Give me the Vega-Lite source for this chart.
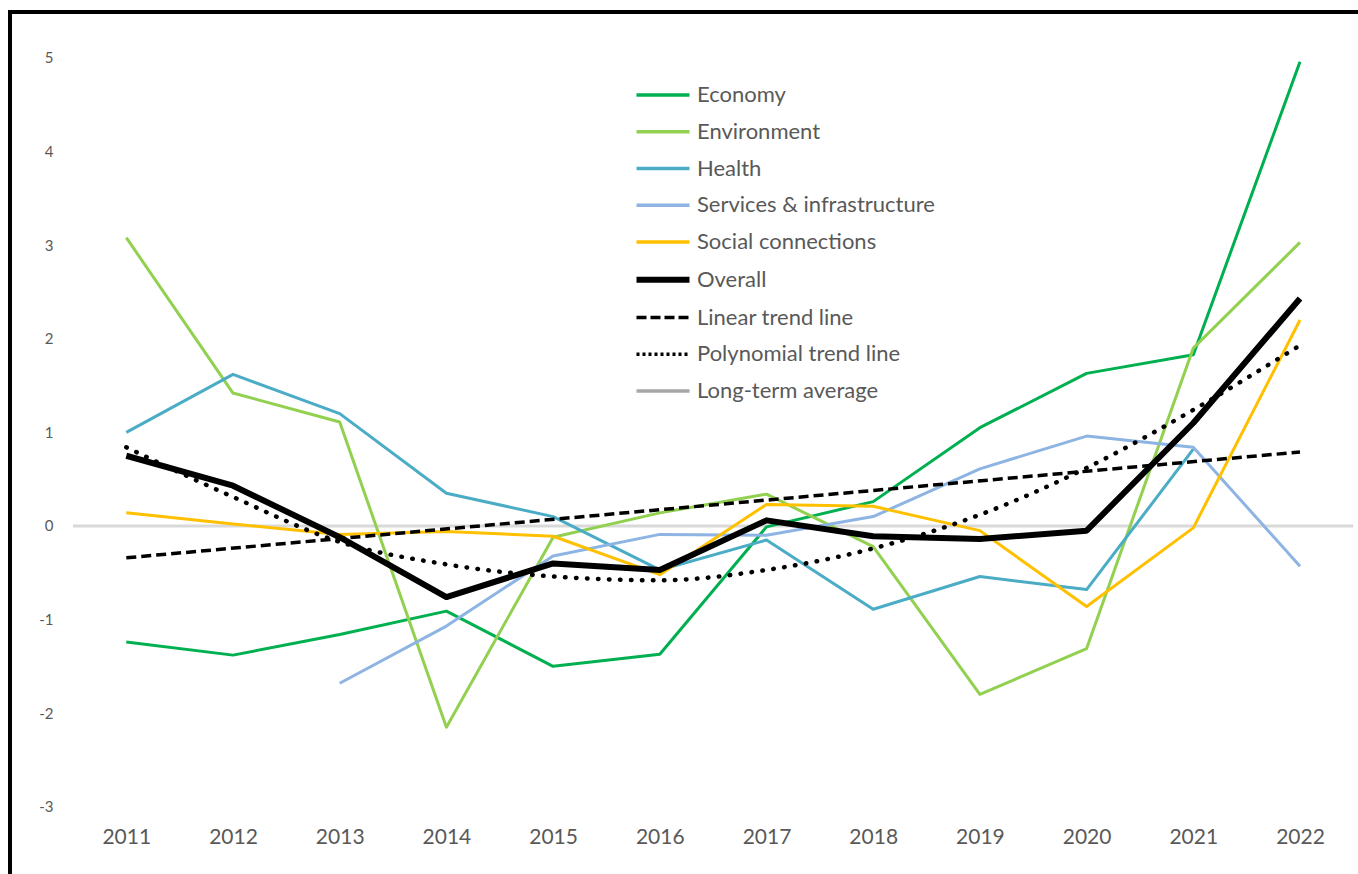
{
  "$schema": "https://vega.github.io/schema/vega-lite/v6.json",
  "autosize": {"type": "none"},
  "padding": {"left": 10, "top": 12, "right": -20, "bottom": -20},
  "width": 1368,
  "height": 882,
  "background": "white",
  "config": {
    "view": {"stroke": "black", "strokeWidth": 4},
    "font": "Lato"
  },
  "datasets": {
    "series": [
      {"series": "Economy", "year": 2011, "value": -1.24},
      {"series": "Economy", "year": 2012, "value": -1.38},
      {"series": "Economy", "year": 2013, "value": -1.16},
      {"series": "Economy", "year": 2014, "value": -0.91},
      {"series": "Economy", "year": 2015, "value": -1.5},
      {"series": "Economy", "year": 2016, "value": -1.37},
      {"series": "Economy", "year": 2017, "value": -0.01},
      {"series": "Economy", "year": 2018, "value": 0.26},
      {"series": "Economy", "year": 2019, "value": 1.05},
      {"series": "Economy", "year": 2020, "value": 1.63},
      {"series": "Economy", "year": 2021, "value": 1.83},
      {"series": "Economy", "year": 2022, "value": 4.96},
      {"series": "Environment", "year": 2011, "value": 3.08},
      {"series": "Environment", "year": 2012, "value": 1.42},
      {"series": "Environment", "year": 2013, "value": 1.11},
      {"series": "Environment", "year": 2014, "value": -2.15},
      {"series": "Environment", "year": 2015, "value": -0.12},
      {"series": "Environment", "year": 2016, "value": 0.14},
      {"series": "Environment", "year": 2017, "value": 0.34},
      {"series": "Environment", "year": 2018, "value": -0.22},
      {"series": "Environment", "year": 2019, "value": -1.8},
      {"series": "Environment", "year": 2020, "value": -1.31},
      {"series": "Environment", "year": 2021, "value": 1.9},
      {"series": "Environment", "year": 2022, "value": 3.03},
      {"series": "Health", "year": 2011, "value": 1.0},
      {"series": "Health", "year": 2012, "value": 1.62},
      {"series": "Health", "year": 2013, "value": 1.2},
      {"series": "Health", "year": 2014, "value": 0.35},
      {"series": "Health", "year": 2015, "value": 0.1},
      {"series": "Health", "year": 2016, "value": -0.47},
      {"series": "Health", "year": 2017, "value": -0.15},
      {"series": "Health", "year": 2018, "value": -0.89},
      {"series": "Health", "year": 2019, "value": -0.54},
      {"series": "Health", "year": 2020, "value": -0.68},
      {"series": "Health", "year": 2021, "value": 0.82},
      {"series": "Services & infrastructure", "year": 2013, "value": -1.68},
      {"series": "Services & infrastructure", "year": 2014, "value": -1.07},
      {"series": "Services & infrastructure", "year": 2015, "value": -0.32},
      {"series": "Services & infrastructure", "year": 2016, "value": -0.09},
      {"series": "Services & infrastructure", "year": 2017, "value": -0.1},
      {"series": "Services & infrastructure", "year": 2018, "value": 0.1},
      {"series": "Services & infrastructure", "year": 2019, "value": 0.61},
      {"series": "Services & infrastructure", "year": 2020, "value": 0.96},
      {"series": "Services & infrastructure", "year": 2021, "value": 0.84},
      {"series": "Services & infrastructure", "year": 2022, "value": -0.43},
      {"series": "Social connections", "year": 2011, "value": 0.14},
      {"series": "Social connections", "year": 2012, "value": 0.02},
      {"series": "Social connections", "year": 2013, "value": -0.09},
      {"series": "Social connections", "year": 2014, "value": -0.06},
      {"series": "Social connections", "year": 2015, "value": -0.11},
      {"series": "Social connections", "year": 2016, "value": -0.52},
      {"series": "Social connections", "year": 2017, "value": 0.23},
      {"series": "Social connections", "year": 2018, "value": 0.21},
      {"series": "Social connections", "year": 2019, "value": -0.05},
      {"series": "Social connections", "year": 2020, "value": -0.86},
      {"series": "Social connections", "year": 2021, "value": -0.02},
      {"series": "Social connections", "year": 2022, "value": 2.2},
      {"series": "Overall", "year": 2011, "value": 0.75},
      {"series": "Overall", "year": 2012, "value": 0.43},
      {"series": "Overall", "year": 2013, "value": -0.12},
      {"series": "Overall", "year": 2014, "value": -0.76},
      {"series": "Overall", "year": 2015, "value": -0.4},
      {"series": "Overall", "year": 2016, "value": -0.47},
      {"series": "Overall", "year": 2017, "value": 0.06},
      {"series": "Overall", "year": 2018, "value": -0.11},
      {"series": "Overall", "year": 2019, "value": -0.14},
      {"series": "Overall", "year": 2020, "value": -0.05},
      {"series": "Overall", "year": 2021, "value": 1.1},
      {"series": "Overall", "year": 2022, "value": 2.43},
      {"series": "Linear trend line", "year": 2011, "value": -0.34},
      {"series": "Linear trend line", "year": 2022, "value": 0.79},
      {"series": "Polynomial trend line", "year": 2011, "value": 0.84},
      {"series": "Polynomial trend line", "year": 2012, "value": 0.31},
      {"series": "Polynomial trend line", "year": 2013, "value": -0.17},
      {"series": "Polynomial trend line", "year": 2014, "value": -0.41},
      {"series": "Polynomial trend line", "year": 2015, "value": -0.54},
      {"series": "Polynomial trend line", "year": 2016, "value": -0.58},
      {"series": "Polynomial trend line", "year": 2017, "value": -0.47},
      {"series": "Polynomial trend line", "year": 2018, "value": -0.24},
      {"series": "Polynomial trend line", "year": 2019, "value": 0.12},
      {"series": "Polynomial trend line", "year": 2020, "value": 0.62},
      {"series": "Polynomial trend line", "year": 2021, "value": 1.24},
      {"series": "Polynomial trend line", "year": 2022, "value": 1.93}
    ],
    "zero": [{"from": 2010.5, "to": 2022.5, "level": 0}]
  },
  "layer": [
    {
      "data": {"name": "zero"},
      "mark": {"type": "rule", "color": "#D9D9D9", "strokeWidth": 3},
      "encoding": {
        "x": {"field": "from", "type": "quantitative", "scale": {"domain": [2009.91, 2022.731], "nice": false, "zero": false}, "axis": {"values": [2011, 2012, 2013, 2014, 2015, 2016, 2017, 2018, 2019, 2020, 2021, 2022], "format": "d", "title": null, "domain": false, "ticks": false, "tickSize": 0, "grid": false, "labelFontSize": 21, "labelColor": "#595959", "labelPadding": 0, "offset": -68, "labelFlush": false}},
        "x2": {"field": "to"},
        "y": {"field": "level", "type": "quantitative", "scale": {"domain": [-3.932, 5.491], "nice": false, "zero": false}, "axis": {"values": [-3, -2, -1, 0, 1, 2, 3, 4, 5], "labelExpr": "'' + datum.value", "title": null, "domain": false, "ticks": false, "tickSize": 0, "grid": false, "labelFontSize": 15, "labelColor": "#595959", "labelPadding": 0, "offset": -43, "labelFlush": false}}
      }
    },
    {
      "data": {"name": "series"},
      "transform": [{"filter": "indexof(['Economy','Environment','Health','Services & infrastructure','Social connections'], datum.series) >= 0"}],
      "mark": {"type": "line", "strokeWidth": 3, "strokeJoin": "round"},
      "encoding": {
        "x": {"field": "year", "type": "quantitative"},
        "y": {"field": "value", "type": "quantitative"},
        "color": {
          "field": "series", "type": "nominal",
          "scale": {
            "domain": ["Economy", "Environment", "Health", "Services & infrastructure", "Social connections", "Overall", "Linear trend line", "Polynomial trend line", "Long-term average"],
            "range": ["#00B050", "#92D050", "#4BACC6", "#8DB4E2", "#FFC000", "#000000", "#000000", "#000000", "#A6A6A6"]
          },
          "legend": {
            "orient": "none", "legendX": 642, "legendY": 72, "title": null,
            "symbolType": "stroke", "symbolSize": 2809, "symbolStrokeWidth": 3.5,
            "labelFontSize": 22, "labelColor": "#595959", "labelOffset": 23,
            "rowPadding": 14.75, "labelLimit": 400,
            "encode": {
              "symbols": {
                "update": {
                  "strokeDash": {"signal": "datum.label == 'Linear trend line' ? [10, 4] : datum.label == 'Polynomial trend line' ? [3, 3] : [1, 0]"},
                  "strokeWidth": {"signal": "datum.label == 'Overall' ? 6 : 3.5"}
                }
              }
            }
          }
        }
      }
    },
    {
      "data": {"name": "series"},
      "transform": [{"filter": "datum.series == 'Overall'"}],
      "mark": {"type": "line", "strokeWidth": 6, "strokeJoin": "round"},
      "encoding": {
        "x": {"field": "year", "type": "quantitative"},
        "y": {"field": "value", "type": "quantitative"},
        "color": {"field": "series", "type": "nominal"}
      }
    },
    {
      "data": {"name": "series"},
      "transform": [{"filter": "datum.series == 'Linear trend line'"}],
      "mark": {"type": "line", "strokeWidth": 3.5, "strokeDash": [10, 5]},
      "encoding": {
        "x": {"field": "year", "type": "quantitative"},
        "y": {"field": "value", "type": "quantitative"},
        "color": {"field": "series", "type": "nominal"}
      }
    },
    {
      "data": {"name": "series"},
      "transform": [{"filter": "datum.series == 'Polynomial trend line'"}],
      "mark": {"type": "line", "strokeWidth": 4.5, "strokeDash": [0.5, 10.5], "strokeCap": "round", "interpolate": "monotone"},
      "encoding": {
        "x": {"field": "year", "type": "quantitative"},
        "y": {"field": "value", "type": "quantitative"},
        "color": {"field": "series", "type": "nominal"}
      }
    }
  ]
}
